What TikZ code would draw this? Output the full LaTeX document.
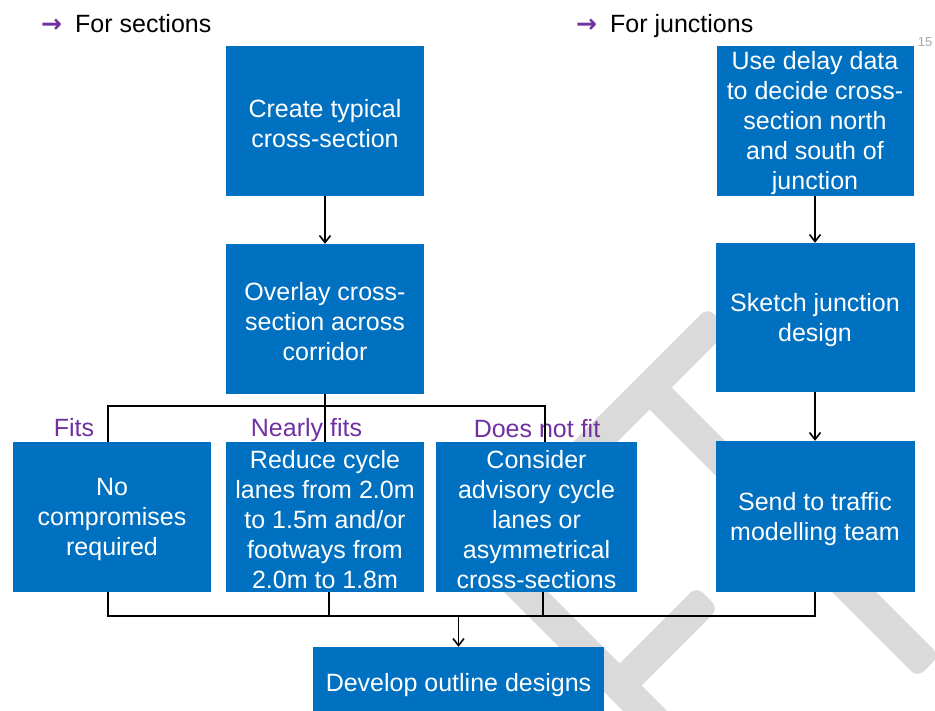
\documentclass[tikz,border=0pt]{standalone}
\usepackage{fontspec}
\setmainfont{Liberation Sans}
\newfontfamily\symfont{DejaVu Sans}
\usetikzlibrary{arrows.meta}
\definecolor{boxblue}{HTML}{0070C0}
\definecolor{lblpurple}{HTML}{7030A0}
\definecolor{wmgrey}{HTML}{DADADA}
\definecolor{pggrey}{HTML}{A6A6A6}
\begin{document}
\begin{tikzpicture}[x=1pt,y=-1pt,
  blockbox/.style={fill=boxblue, draw=none, inner sep=0pt,
    minimum width=198pt, minimum height=150pt},
  boxtext/.style={text=white, align=center, inner sep=0pt, font=\fontsize{25}{30}\selectfont},
  conn/.style={line width=1.6pt, black},
  arr/.style={conn, -{Straight Barb[length=7pt,width=11pt]}},
  lbl/.style={text=lblpurple, font=\fontsize{25}{30}\selectfont, anchor=base, inner sep=0pt},
  hdr/.style={font=\fontsize{25}{30}\selectfont, anchor=base west, inner sep=0pt},
  hdrarrow/.style={text=lblpurple, font=\symfont\bfseries\fontsize{25}{30}\selectfont, anchor=base west, inner sep=0pt},
  wm/.style={fill=wmgrey, rounded corners=9pt}
]
\useasboundingbox (0,0) rectangle (935,711);
\clip (0,0) rectangle (935,711);

% watermark
\fill[wm] (567.5,447.5) -- (707.5,307.5) -- (729.5,329.5) -- (589.5,469.5) -- cycle;
\fill[wm] (638.5,398.5) -- (660.5,376.5) -- (939.5,655.5) -- (917.5,677.5) -- cycle;
\fill[wm] (463.5,551.5) -- (485.5,529.5) -- (728,772) -- (706,794) -- cycle;
\fill[wm] (608.5,674.5) -- (696.5,586.5) -- (718.5,608.5) -- (630.5,696.5) -- cycle;

% headers
\node[hdrarrow] (ha1) at (41,33) {→};
\node[hdr] (hs) at (75,33) {For sections};
\node[hdrarrow] (ha2) at (576,33) {→};
\node[hdr] (hj) at (610,33) {For junctions};
\node[font=\fontsize{13}{15}\selectfont, text=pggrey, anchor=base, inner sep=0pt] (pg) at (925,47) {15};

% boxes
\node[blockbox] (create) at (325,121) {};
\node[blockbox] (overlay) at (325,319) {};
\node[blockbox, minimum width=197pt] (delay) at (815,121) {};
\node[blockbox, minimum width=199pt, minimum height=149pt] (sketch) at (815,317.5) {};
\node[blockbox, minimum width=199pt, minimum height=151pt] (send) at (815,516.5) {};
\node[blockbox] (nocomp) at (112,517) {};
\node[blockbox] (reduce) at (325,517) {};
\node[blockbox, minimum width=201pt] (consider) at (536.5,517) {};
\node[blockbox, minimum width=291pt, minimum height=73pt] (develop) at (458.5,683.5) {};

% box texts
\node[boxtext] (createT) at ([yshift=-2.5pt]create.center) {Create typical\\cross-section};
\node[boxtext] (overlayT) at ([yshift=-2.5pt]overlay.center) {Overlay cross-\\section across\\corridor};
\node[boxtext] (delayT) at ([yshift=-2.5pt]delay.center) {Use delay data\\to decide cross-\\section north\\and south of\\junction};
\node[boxtext] (sketchT) at ([yshift=-2.5pt]sketch.center) {Sketch junction\\design};
\node[boxtext] (sendT) at ([yshift=-2.5pt]send.center) {Send to traffic\\modelling team};
\node[boxtext] (nocompT) at ([yshift=-2.5pt]nocomp.center) {No\\compromises\\required};
\node[boxtext] (reduceT) at ([yshift=-2.5pt]reduce.center) {Reduce cycle\\lanes from 2.0m\\to 1.5m and/or\\footways from\\2.0m to 1.8m};
\node[boxtext] (considerT) at ([yshift=-2.5pt]consider.center) {Consider\\advisory cycle\\lanes or\\asymmetrical\\cross-sections};
\node[boxtext] (developT) at ([yshift=-2pt]develop.center) {Develop outline designs};

% labels
\node[lbl] (fits) at (74,436) {Fits};
\node[lbl] (nearly) at (306.5,436) {Nearly fits};
\node[lbl] (dnf) at (537,437) {Does not fit};

% connectors
\draw[arr] (create.south) -- (overlay.north);
\draw[conn] (overlay.south) -- (reduce.north);
\draw[conn] ([xshift=-4pt]nocomp.north) -- ++(0,-36) coordinate (sl)
  -- (sl -| consider.north) -- ++(8.5,0) coordinate (sr) -- (sr |- consider.north);
\draw[arr] (delay.south) -- (sketch.north);
\draw[arr] (sketch.south) -- (send.north);
\draw[conn] ([xshift=-4pt]nocomp.south) -- ++(0,24) coordinate (ml)
  -- (ml -| send.south) -- (send.south);
\draw[conn] ([xshift=4pt]reduce.south) -- ++(0,24);
\draw[conn] ([xshift=6.5pt]consider.south) -- ++(0,24);
\draw[arr] (ml -| develop.north) -- (develop.north);
\end{tikzpicture}
\end{document}
